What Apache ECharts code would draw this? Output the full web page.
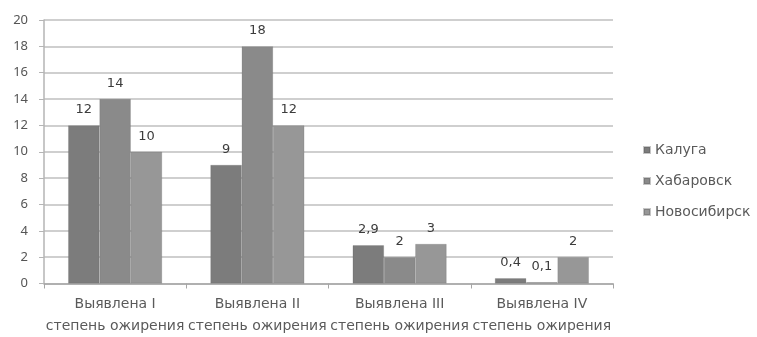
<!DOCTYPE html>
<html>
<head>
<meta charset="utf-8">
<script src="https://cdn.jsdelivr.net/npm/echarts@6/dist/echarts.min.js"></script>
<style>
  html, body { margin: 0; padding: 0; background: #ffffff; }
  #chart { width: 757px; height: 337px; }
</style>
</head>
<body>
<div id="chart"></div>
<script>
// Categories (obesity degree detected) and per-city values
const categories = [
  'Выявлена I\nстепень ожирения',
  'Выявлена II\nстепень ожирения',
  'Выявлена III\nстепень ожирения',
  'Выявлена IV\nстепень ожирения'
];
const seriesNames = ['Калуга', 'Хабаровск', 'Новосибирск'];
const kaluga = [12, 9, 2.9, 0.4];
const khabarovsk = [14, 18, 2, 0.1];
const novosibirsk = [10, 12, 3, 2];
const yTicks = [0, 2, 4, 6, 8, 10, 12, 14, 16, 18, 20];

const colors = ['#7c7c7c', '#8a8a8a', '#979797'];
const textFont = 'DejaVu Sans';
const numFont = 'Noto Sans';

function barSeries(name, data, color) {
  return {
    name: name,
    type: 'bar',
    data: data,
    barGap: '0%',
    barCategoryGap: '34%',
    itemStyle: { color: color, borderColor: 'rgba(90,90,90,0.35)', borderWidth: 0.6 },
    label: {
      show: true,
      position: 'top',
      distance: 9,
      color: '#3c3c3c',
      fontFamily: textFont,
      fontSize: 13,
      formatter: p => String(p.value).replace('.', ',')
    }
  };
}

const chart = echarts.init(document.getElementById('chart'), null, { renderer: 'canvas' });
chart.setOption({
  animation: false,
  backgroundColor: '#ffffff',
  color: colors,
  grid: { left: 44, right: 144, top: 20, bottom: 53.5, containLabel: false, outerBoundsMode: 'none' },
  legend: {
    orient: 'vertical',
    left: 638,
    top: 138,
    itemWidth: 6,
    itemHeight: 6,
    itemGap: 17,
    icon: 'rect',
    data: seriesNames,
    textStyle: { fontFamily: textFont, fontSize: 14, color: '#5a5a5a' }
  },
  xAxis: {
    type: 'category',
    data: categories,
    axisLine: { lineStyle: { color: '#a6a6a6', width: 1.5 } },
    axisTick: { show: true, length: 5, lineStyle: { color: '#a6a6a6' } },
    axisLabel: {
      fontFamily: textFont,
      fontSize: 14,
      color: '#5a5a5a',
      lineHeight: 22,
      margin: 10,
      interval: 0
    }
  },
  yAxis: {
    type: 'value',
    min: yTicks[0],
    max: yTicks[yTicks.length - 1],
    interval: 2,
    axisLine: { show: true, lineStyle: { color: '#b5b5b5', width: 1.5 } },
    axisTick: { show: true, length: 5, lineStyle: { color: '#b5b5b5' } },
    splitLine: { lineStyle: { color: '#cfcfcf', width: 2 } },
    axisLabel: {
      fontFamily: numFont,
      fontSize: 13,
      color: '#555555',
      margin: 16
    }
  },
  series: [
    barSeries(seriesNames[0], kaluga, colors[0]),
    barSeries(seriesNames[1], khabarovsk, colors[1]),
    barSeries(seriesNames[2], novosibirsk, colors[2])
  ]
});
</script>
</body>
</html>
